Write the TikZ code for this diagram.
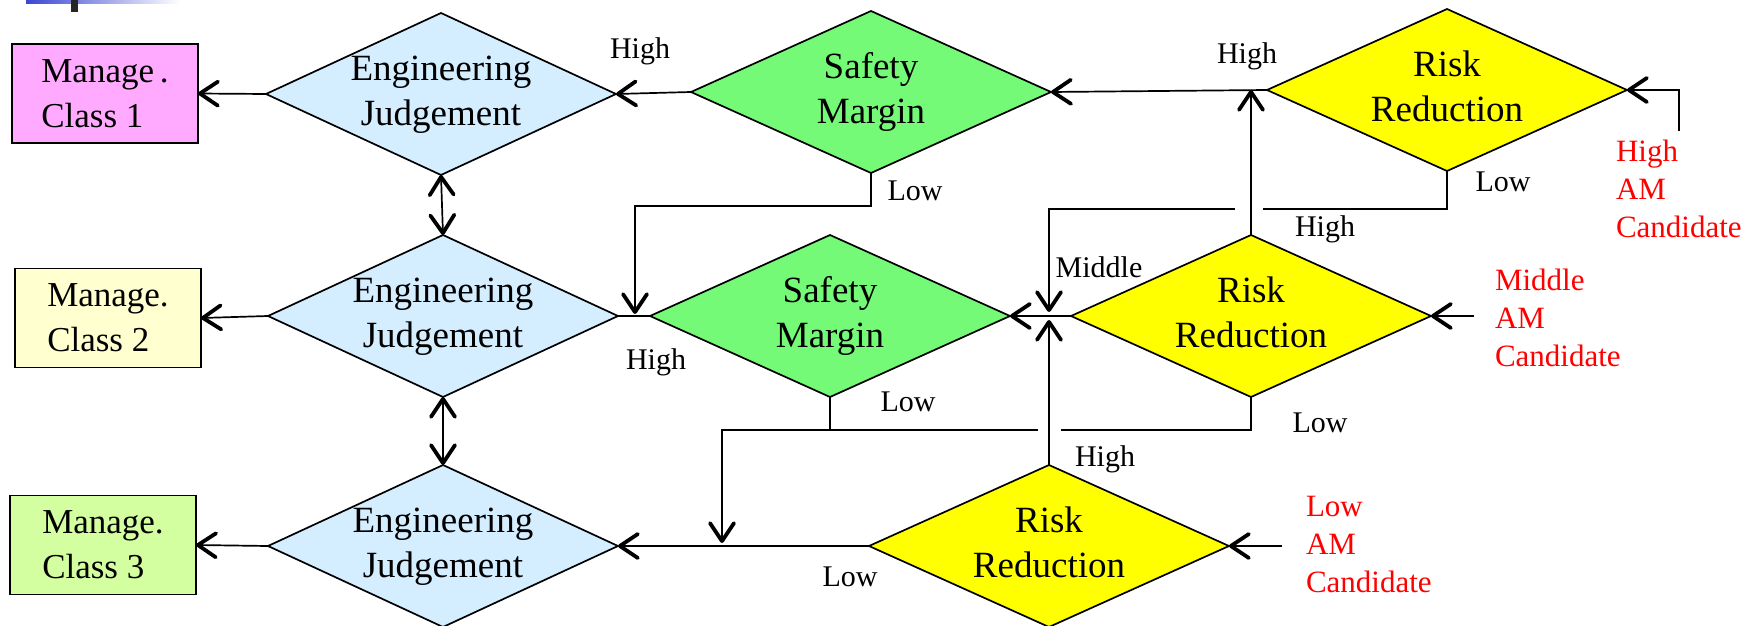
\documentclass[tikz,border=0pt]{standalone}
\usepackage{fontspec}
\setmainfont{Liberation Serif}
\usetikzlibrary{shapes.geometric,arrows.meta}
\definecolor{ejblue}{RGB}{212,238,255}
\definecolor{smgreen}{RGB}{117,250,120}
\definecolor{rryellow}{RGB}{255,255,0}
\definecolor{cpink}{RGB}{255,170,255}
\definecolor{cyell}{RGB}{255,255,208}
\definecolor{cgreen}{RGB}{212,255,160}
\definecolor{barblue}{RGB}{60,70,210}
\newcommand{\dtxt}[2]{\makebox[0pt]{\raisebox{-0.5ex}[0pt][0pt]{\begin{tabular}{@{}c@{}}#1\\#2\end{tabular}}}}
\begin{document}
\begin{tikzpicture}[x=0.5pt,y=-0.5pt,
  every node/.style={inner sep=0pt,outer sep=0pt},
  dia/.style={diamond,draw=black,line width=0.85pt,minimum width=180pt,minimum height=81pt,font=\fontsize{18.5}{22.5}\selectfont},
  ejd/.style={dia,fill=ejblue,minimum width=175pt},
  smd/.style={dia,fill=smgreen},
  rrd/.style={dia,fill=rryellow},
  mbox/.style={draw=black,line width=0.9pt,minimum width=93pt,minimum height=49.5pt,align=left,font=\fontsize{17.5}{22.5}\selectfont},
  lbl/.style={font=\fontsize{15}{18}\selectfont},
  amlbl/.style={text=red,align=left,anchor=west,font=\fontsize{15.5}{19}\selectfont},
  conn/.style={line width=0.85pt},
  tipb/.tip={Straight Barb[length=9pt,width=12pt,line width=1.9pt,round]},
  arr/.style={conn,-tipb},
  darr/.style={conn,tipb-tipb}]
\useasboundingbox (0,0) rectangle (1761,626);
% header fragment
\shade[left color=barblue,right color=white] (26,0) rectangle (180,4);
\fill[black!85] (71,0) rectangle (78,12);
% boxes
\node[mbox,fill=cpink] (b1) at (105,93.5) {Manage\,.\\Class 1};
\node[mbox,fill=cyell] (b2) at (108,318) {Manage.\\Class 2};
\node[mbox,fill=cgreen] (b3) at (103,545) {Manage.\\Class 3};
% diamonds
\node[ejd] (ej1) at (441,94) {\dtxt{Engineering}{Judgement}};
\node[ejd] (ej2) at (443,316) {\dtxt{Engineering}{Judgement}};
\node[ejd] (ej3) at (443,546) {\dtxt{Engineering}{Judgement}};
\node[smd] (sm1) at (871,92) {\dtxt{Safety}{Margin}};
\node[smd] (sm2) at (830,316) {\dtxt{Safety}{Margin}};
\node[rrd] (rr1) at (1447,90) {\dtxt{Risk}{Reduction}};
\node[rrd] (rr2) at (1251,316) {\dtxt{Risk}{Reduction}};
\node[rrd] (rr3) at (1049,546) {\dtxt{Risk}{Reduction}};
% labels
\node[lbl] (lh1) at (640,51) {High};
\node[lbl] (ll1) at (915,191) {Low};
\node[lbl] (lh2) at (1247,56) {High};
\node[lbl] (ll2) at (1503,182) {Low};
\node[lbl] (lh3) at (1325,229) {High};
\node[lbl] (lm) at (1099,267) {Middle};
\node[lbl] (lh4) at (656,362) {High};
\node[lbl] (ll3) at (908,402) {Low};
\node[lbl] (ll4) at (1320,423) {Low};
\node[lbl] (lh5) at (1105,459) {High};
\node[lbl] (ll5) at (850,577) {Low};
\node[amlbl] (am1) at (1616,189) {High\\AM\\Candidate};
\node[amlbl] (am2) at (1495,318) {Middle\\AM\\Candidate};
\node[amlbl] (am3) at (1306,544) {Low\\AM\\Candidate};
% coordinates
\coordinate (in1) at (1679,131);
\coordinate (in2) at (1474,316);
\coordinate (in3) at (1282,546);
\coordinate (k1) at (635,206);
\coordinate (t1) at (635,314);
\coordinate (k2) at (1263,209);
\coordinate (k3) at (1235,209);
\coordinate (jd) at (1049,312);
\coordinate (ju) at (1049,320);
\coordinate (k4) at (722,430);
\coordinate (t2) at (722,543);
\coordinate (k5) at (1061,430);
\coordinate (k6) at (1038,430);
% connectors
\draw[arr] (ej1.west) -- (b1.east);
\draw[arr] (ej2.west) -- (b2.east);
\draw[arr] (ej3.west) -- (b3.east);
\draw[darr] (ej1.south) -- (ej2.north);
\draw[darr] (ej2.south) -- (ej3.north);
\draw[arr] (sm1.west) -- (ej1.east);
\draw[arr] (rr1.west) -- (sm1.east);
\draw[arr] (in1) |- (rr1.east);
\draw[arr] (in2) -- (rr2.east);
\draw[arr] (in3) -- (rr3.east);
\draw[conn] (ej2.east) -- (sm2.west);
\draw[arr] (sm1.south) |- (k1) -- (t1);
\draw[conn] (rr1.south) |- (k2);
\draw[arr] (k3) -| (jd);
\draw[arr] (rr2.north) -- (rr2.north |- rr1.west);
\draw[arr] (rr2.west) -- (sm2.east);
\draw[arr] (rr3.north) -- (ju);
\draw[arr] (rr3.west) -- (ej3.east);
\draw[arr] (sm2.south) |- (k4) -- (t2);
\draw[conn] (rr2.south) |- (k5);
\draw[conn] (k6) -- (sm2.south |- k6);
\end{tikzpicture}
\end{document}
